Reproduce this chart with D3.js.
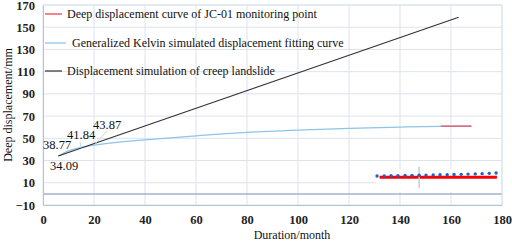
<!DOCTYPE html>
<html lang="en">
<head>
  <meta charset="UTF-8">
  <title>Deep displacement of JC-01</title>
  <script src="https://d3js.org/d3.v7.min.js"></script>
  <style>
    body { margin: 0; background: #fff; }
    svg text { font-family: "Liberation Serif", "Times New Roman", "DejaVu Serif", serif; }
  </style>
</head>
<body>
  <div id="chart"></div>
  <script>
    // ---- data ----
    const xTicks = [0, 20, 40, 60, 80, 100, 120, 140, 160, 180];
    const yTicks = [-10, 10, 30, 50, 70, 90, 110, 130, 150, 170];

    // displacement simulation of creep landslide (straight line)
    const creepMonths = [6, 163];
    const creepValues = [34.09, 159];

    // generalized Kelvin fitting curve
    const kelvinMonths = [6, 10, 15, 20, 30, 40, 60, 80, 100, 120, 140, 156, 168];
    const kelvinValues = [34.09, 38.77, 41.84, 43.87, 46.6, 48.6, 52.2, 55.3, 57.4, 59, 60.1, 60.8, 61];

    // monitored deep displacement (short segment on the fitted curve)
    const monitorMonths = [156, 168];
    const monitorValues = [61, 61];

    // inset series at bottom right
    const dotMonths = [131, 133.8, 136.5, 139.2, 142, 144.7, 147.5, 150.2, 153, 155.7,
                       158.5, 161.2, 164, 166.7, 169.5, 172.2, 175, 177.7];
    const dotValues = [16.1, 16.2, 16.3, 16.4, 16.6, 16.7, 16.8, 16.9, 17.1, 17.2,
                       17.3, 17.5, 17.6, 17.8, 18, 18.2, 18.5, 18.8];
    const redMonths = [132, 178];
    const redValues = [14.9, 14.9];

    const labelValues = [34.09, 38.77, 41.84, 43.87];

    const legendNames = [
      "Deep displacement curve of JC-01 monitoring point",
      "Generalized Kelvin simulated displacement fitting curve",
      "Displacement simulation of creep landslide"
    ];
    const legendColors = ["#f0414b", "#8fc3ea", "#404040"];

    // ---- layout ----
    const width = 512, height = 243;
    const svg = d3.select("#chart").append("svg")
      .attr("width", width).attr("height", height);

    const x = d3.scaleLinear().domain([0, 180]).range([43, 502]);
    const y = d3.scaleLinear().domain([-10, 170]).range([205, 5]);

    // grid
    const grid = svg.append("g");
    grid.selectAll(".h").data(yTicks).join("line")
      .attr("x1", x(0)).attr("x2", x(180))
      .attr("y1", d => y(d)).attr("y2", d => y(d))
      .attr("stroke", "#dbe3ee").attr("stroke-width", 1);
    grid.selectAll(".v").data(xTicks).join("line")
      .attr("x1", d => x(d)).attr("x2", d => x(d))
      .attr("y1", y(170)).attr("y2", y(-10))
      .attr("stroke", "#dbe3ee").attr("stroke-width", 1);

    // zero line
    svg.append("line")
      .attr("x1", x(0)).attr("x2", x(180))
      .attr("y1", y(0)).attr("y2", y(0))
      .attr("stroke", "#a3b2c7").attr("stroke-width", 1.5);

    // white patch behind the inset series
    svg.append("rect")
      .attr("x", x(130.5)).attr("y", y(22))
      .attr("width", x(179.3) - x(130.5))
      .attr("height", y(2) - y(22))
      .attr("fill", "#fff");

    // axes
    const yAxis = svg.append("g")
      .attr("transform", `translate(${x(0)},0)`)
      .call(d3.axisLeft(y).tickValues(yTicks).tickSize(0).tickPadding(8));
    yAxis.select(".domain").attr("stroke", "#b7c3d4");
    yAxis.selectAll("text")
      .attr("font-size", 12.5).attr("font-weight", "bold").attr("fill", "#222");

    const xAxis = svg.append("g")
      .attr("transform", `translate(0,${y(-10)})`)
      .call(d3.axisBottom(x).tickValues(xTicks).tickSize(0).tickPadding(10));
    xAxis.select(".domain").attr("stroke", "#b7c3d4");
    xAxis.selectAll("text")
      .attr("font-size", 12.5).attr("font-weight", "bold").attr("fill", "#222");

    // top / right frame
    svg.append("path")
      .attr("d", `M${x(0)},${y(170)}H${x(180)}V${y(-10)}`)
      .attr("fill", "none").attr("stroke", "#dbe3ee");

    // axis titles
    svg.append("text")
      .attr("transform", `translate(12,${y(80)}) rotate(-90)`)
      .attr("text-anchor", "middle").attr("font-size", 12).attr("fill", "#111")
      .text("Deep displacement/mm");
    svg.append("text")
      .attr("x", 292).attr("y", 239)
      .attr("text-anchor", "middle").attr("font-size", 12).attr("fill", "#111")
      .text("Duration/month");

    const line = d3.line().x(d => x(d[0])).y(d => y(d[1]));

    // Kelvin curve
    svg.append("path")
      .datum(d3.zip(kelvinMonths, kelvinValues))
      .attr("fill", "none").attr("stroke", "#8fc3ea").attr("stroke-width", 1.3)
      .attr("d", d3.line().x(d => x(d[0])).y(d => y(d[1])).curve(d3.curveMonotoneX));

    // creep line
    svg.append("path")
      .datum(d3.zip(creepMonths, creepValues))
      .attr("fill", "none").attr("stroke", "#333").attr("stroke-width", 1.2)
      .attr("d", line);

    // monitoring segment
    svg.append("path")
      .datum(d3.zip(monitorMonths, monitorValues))
      .attr("fill", "none").attr("stroke", "#e8525e").attr("stroke-width", 1.3)
      .attr("d", line);

    // inset: red thick line, gray error tick, blue dots
    svg.append("path")
      .datum(d3.zip(redMonths, redValues))
      .attr("fill", "none").attr("stroke", "#f00").attr("stroke-width", 3)
      .attr("d", line);
    svg.append("line")
      .attr("x1", x(147.5)).attr("x2", x(147.5))
      .attr("y1", y(24.5)).attr("y2", y(5.5))
      .attr("stroke", "#c4ccd6").attr("stroke-width", 1.5);
    svg.selectAll(".dot").data(d3.zip(dotMonths, dotValues)).join("circle")
      .attr("cx", d => x(d[0])).attr("cy", d => y(d[1]))
      .attr("r", 1.7).attr("fill", "#1a64c8");

    // data labels with leader lines
    const labelPos = [[50, 170], [43, 149], [67, 139], [93, 129]];
    svg.append("line")
      .attr("x1", 80).attr("y1", 142).attr("x2", x(15)).attr("y2", y(41.84) + 1)
      .attr("stroke", "#a9cbe8").attr("stroke-width", 0.8);
    svg.append("line")
      .attr("x1", 107).attr("y1", 131).attr("x2", x(20) + 1).attr("y2", y(43.87) - 1)
      .attr("stroke", "#a9cbe8").attr("stroke-width", 0.8);
    svg.selectAll(".lbl").data(labelValues).join("text")
      .attr("x", (d, i) => labelPos[i][0]).attr("y", (d, i) => labelPos[i][1])
      .attr("font-size", 12.5).attr("fill", "#111")
      .text(d => d.toFixed(2));

    // legend
    const leg = svg.append("g");
    const legY = [14, 43, 71];
    legendNames.forEach((name, i) => {
      leg.append("line")
        .attr("x1", 45).attr("x2", i === 1 ? 66 : 62)
        .attr("y1", legY[i]).attr("y2", legY[i])
        .attr("stroke", legendColors[i]).attr("stroke-width", 1.3);
      leg.append("text")
        .attr("x", i === 1 ? 72 : 67).attr("y", legY[i] + 4)
        .attr("font-size", 12).attr("fill", "#111")
        .text(name);
    });
  </script>
</body>
</html>
